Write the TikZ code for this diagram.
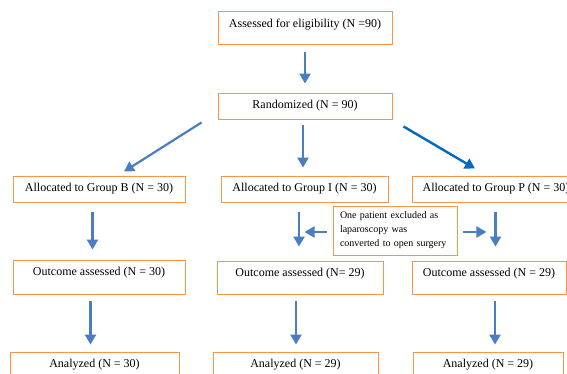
\documentclass[tikz,border=0pt]{standalone}
\usepackage{fontspec}
\setmainfont{Liberation Serif}
\usetikzlibrary{arrows.meta,calc}
\definecolor{boxor}{RGB}{247,150,70}
\definecolor{arrblue}{RGB}{74,126,193}
\definecolor{arrdark}{RGB}{0,106,190}
\tikzset{
  box/.style={draw=boxor, line width=0.9pt, inner sep=0pt, minimum height=26pt,
    font=\fontsize{12}{14}\selectfont},
  exclbox/.style={draw=boxor, line width=0.9pt, inner xsep=7pt, inner ysep=0pt,
    minimum height=49pt, text width=110pt, align=left,
    font=\fontsize{10}{14}\selectfont},
  arr/.style={draw=arrblue, line width=2.2pt, -{Triangle[width=11pt,length=10pt]}},
  arrd/.style={draw=arrdark, line width=2.4pt, -{Triangle[width=11pt,length=10pt]}},
}
\begin{document}
\begin{tikzpicture}[x=1pt,y=-1pt]
\useasboundingbox (0,0) rectangle (567,374);
\clip (0,0) rectangle (567,374);
\fill[white] (0,0) rectangle (567,374);
% boxes
\node[box, minimum width=174pt, minimum height=33pt, text height=8.5pt, text depth=7.5pt] (top) at (305,27.5) {Assessed for eligibility (N =90)};
\node[box, minimum width=174pt] (rand) at (305,106) {Randomized (N = 90)};
\node[box, minimum width=172pt] (allocB) at (99,189) {Allocated to Group B (N = 30)};
\node[box, minimum width=167pt] (allocI) at (304.5,189) {Allocated to Group I (N = 30)};
\node[box, minimum width=168pt] (allocP) at (496,189) {Allocated to Group P (N = 30)};
\node[exclbox] (excl) at (395,230.5) {One patient excluded as\\laparoscopy was\\converted to open surgery};
\node[box, minimum width=172pt, minimum height=34pt, text height=8.5pt, text depth=11.5pt] (outB) at (99,277) {Outcome assessed (N = 30)};
\node[box, minimum width=166pt, minimum height=33pt, text height=8.5pt, text depth=11.5pt] (outI) at (300,277.5) {Outcome assessed (N= 29)};
\node[box, minimum width=154pt, minimum height=33pt, text height=8.5pt, text depth=11.5pt] (outP) at (489,277.5) {Outcome assessed (N = 29)};
\node[box, minimum width=169pt] (anaB) at (94.5,365) {Analyzed (N = 30)};
\node[box, minimum width=165pt] (anaI) at (295.5,365) {Analyzed (N = 29)};
\node[box, minimum width=150pt] (anaP) at (488,365) {Analyzed (N = 29)};
% connectors
\draw[arr, shorten <=8pt, shorten >=9pt] (top) -- (rand);
\draw[arr] ($(rand.south west)+(-16pt,-3pt)$) -- ($(allocB.north)+(25pt,4pt)$);
\draw[arr] ($(rand.south)+(-2pt,-6pt)$) -- ($(allocI.north -| rand.south)+(-2pt,8pt)$);
\draw[arrd] ($(rand.south east)+(11pt,-7pt)$) -- ($(allocP.north)+(-21pt,7pt)$);
\draw[arr] ($(allocB.south)+(-6.5pt,-10pt)$) -- ($(outB.north -| allocB.south)+(-6.5pt,10pt)$);
\draw[arr] ($(allocI.south)+(-5.5pt,-10pt)$) -- ($(outI.north -| allocI.south)+(-5.5pt,14pt)$);
\draw[arr] ($(allocP.south)+(-0.5pt,-10pt)$) -- ($(outP.north -| allocP.south)+(-0.5pt,14pt)$);
\draw[arr] ($(excl.west)+(-6pt,-1.5pt)$) -- ($(excl.west)+(-28pt,-1.5pt)$);
\draw[arr] ($(excl.east)+(6pt,-1.5pt)$) -- ($(excl.east)+(29pt,-1.5pt)$);
\draw[arr] ($(outB.south)+(-8.5pt,-7pt)$) -- ($(anaB.north -| outB.south)+(-8.5pt,7pt)$);
\draw[arr] ($(outI.south)+(-4pt,-7pt)$) -- ($(anaI.north -| outI.south)+(-4pt,7pt)$);
\draw[arr] ($(outP.south)+(6pt,-7pt)$) -- ($(anaP.north -| outP.south)+(6pt,7pt)$);
\end{tikzpicture}
\end{document}
